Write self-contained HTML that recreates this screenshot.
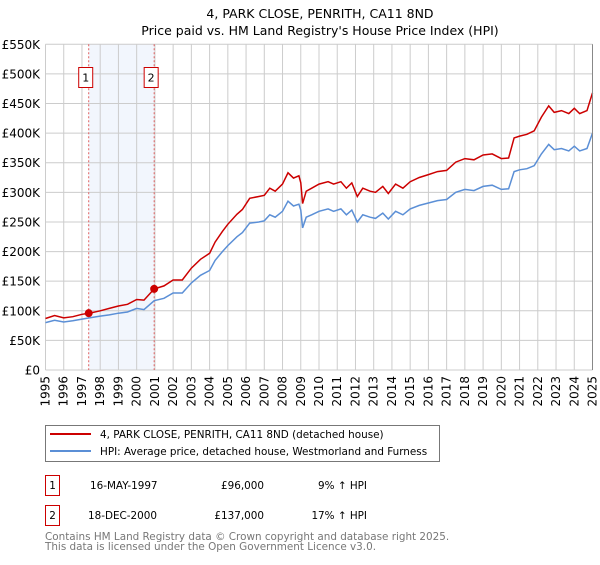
<!DOCTYPE html>
<html><head><meta charset="utf-8"><style>
body{margin:0;background:#fff;}
svg text{font-family:"DejaVu Sans","Liberation Sans",sans-serif;}
</style></head><body>
<svg id="chart" width="600" height="560" xmlns="http://www.w3.org/2000/svg">
<text x="320" y="18" font-size="12.5" text-anchor="middle" fill="#000">4, PARK CLOSE, PENRITH, CA11 8ND</text>
<text x="320" y="35" font-size="12.5" text-anchor="middle" fill="#000">Price paid vs. HM Land Registry's House Price Index (HPI)</text>
<g id="grid"></g>
<g id="marks"></g>
<g id="axes"></g>
<rect x="45.5" y="425.5" width="394" height="36" fill="#fff" stroke="#777"/>
<line x1="50" y1="434" x2="91" y2="434" stroke="#cc0000" stroke-width="2"/>
<text x="100" y="438" font-size="10.4">4, PARK CLOSE, PENRITH, CA11 8ND (detached house)</text>
<line x1="50" y1="451" x2="91" y2="451" stroke="#5b8fd6" stroke-width="2"/>
<text x="100" y="455" font-size="10.4">HPI: Average price, detached house, Westmorland and Furness</text>
<rect x="45.5" y="475.5" width="14" height="20" fill="#fff" stroke="#cc0000"/>
<text x="52.5" y="489" font-size="10.4" text-anchor="middle">1</text>
<text x="90" y="489" font-size="10.4">16-MAY-1997</text>
<text x="264" y="489" font-size="10.4" text-anchor="end">£96,000</text>
<text x="367" y="489" font-size="10.4" text-anchor="end">9% ↑ HPI</text>
<rect x="45.5" y="505.5" width="14" height="20" fill="#fff" stroke="#cc0000"/>
<text x="52.5" y="519" font-size="10.4" text-anchor="middle">2</text>
<text x="88" y="519" font-size="10.4">18-DEC-2000</text>
<text x="264" y="519" font-size="10.4" text-anchor="end">£137,000</text>
<text x="367" y="519" font-size="10.4" text-anchor="end">17% ↑ HPI</text>
<text x="45" y="540" font-size="10.4" fill="#777">Contains HM Land Registry data © Crown copyright and database right 2025.</text>
<text x="45" y="550" font-size="10.4" fill="#777">This data is licensed under the Open Government Licence v3.0.</text>
</svg>
<script>
const years=[1995,1995.5,1996,1996.5,1997,1997.4,1998,1998.5,1999,1999.5,2000,2000.4,2000.96,2001.5,2002,2002.5,2003,2003.5,2004,2004.3,2004.7,2005,2005.5,2005.8,2006.2,2006.7,2007,2007.3,2007.6,2008,2008.3,2008.6,2008.9,2009,2009.1,2009.3,2009.6,2010,2010.5,2010.8,2011.2,2011.5,2011.8,2012.1,2012.4,2012.8,2013.1,2013.5,2013.8,2014.2,2014.6,2015,2015.5,2016,2016.5,2017,2017.5,2018,2018.5,2019,2019.5,2020,2020.4,2020.7,2021,2021.4,2021.8,2022.2,2022.6,2022.9,2023.3,2023.7,2024,2024.3,2024.7,2025];
const hpiValues=[80,84,81,83,86,88,91,93,96,98,104,102,117,121,130,130,147,160,168,185,200,210,225,232,248,250,252,262,258,268,285,277,280,270,240,258,262,268,272,268,272,262,270,250,262,258,256,265,255,268,262,272,278,282,286,288,300,305,303,310,312,305,306,335,338,340,345,365,381,372,374,370,378,370,374,400];
const propertyValues=[87,92,88,90,94,96,100,104,108,111,119,118,137,142,152,152,172,187,197,216,234,246,263,271,290,293,295,307,302,314,333,324,328,316,281,302,307,314,318,314,318,307,316,293,307,302,300,310,298,314,307,318,325,330,335,337,351,357,355,363,365,357,358,392,395,398,404,427,446,435,438,433,442,433,438,468];
const yTicks=[0,50,100,150,200,250,300,350,400,450,500,550];
const yTickLabels=["£0","£50K","£100K","£150K","£200K","£250K","£300K","£350K","£400K","£450K","£500K","£550K"];
const xTicks=[1995,1996,1997,1998,1999,2000,2001,2002,2003,2004,2005,2006,2007,2008,2009,2010,2011,2012,2013,2014,2015,2016,2017,2018,2019,2020,2021,2022,2023,2024,2025];
const saleYears=[1997.37,2000.96];
const salePrices=[96,137];
const saleLabels=["1","2"];

const X0=45.5,X1=592.5,Y0=370,Y1=44.3;
const xs=y=>X0+(y-1995)/30*(X1-X0);
const ys=v=>Y0-v/550*(Y0-Y1);
const NS="http://www.w3.org/2000/svg";
function mk(tag,attrs,parent){const e=document.createElementNS(NS,tag);for(const k in attrs)e.setAttribute(k,attrs[k]);parent.appendChild(e);return e;}
const grid=document.getElementById('grid'),marks=document.getElementById('marks'),axes=document.getElementById('axes');

const shade=mk('rect',{x:xs(saleYears[0]),y:Y1,width:xs(saleYears[1])-xs(saleYears[0]),height:Y0-Y1,fill:'#f2f6fd'},grid);


yTicks.forEach((t,i)=>{
  const l=mk('line',{x1:X0,x2:X1,y1:ys(t),y2:ys(t),stroke:'#ccc','stroke-width':1},grid);
  
  
  const tx=mk('text',{x:40,y:ys(t)+4.5,'font-size':12,'text-anchor':'end',fill:'#000'},axes);
  tx.textContent=yTickLabels[i];
  
  
});
xTicks.forEach(t=>{
  const l=mk('line',{x1:xs(t),x2:xs(t),y1:Y1,y2:Y0,stroke:'#ccc','stroke-width':1},grid);
  
  
  const tx=mk('text',{x:0,y:0,'font-size':12,'text-anchor':'end',transform:`translate(${xs(t)+4},${Y0+6}) rotate(-90)`},axes);
  tx.textContent=t;
  
  
});
saleYears.forEach((s,i)=>{
  const l=mk('line',{x1:xs(s),x2:xs(s),y1:Y1,y2:Y0,stroke:'#e06060','stroke-width':1,'stroke-dasharray':'2,2'},grid);
  
  
  const r=mk('rect',{x:xs(s)-10,y:67.5,width:14,height:20,fill:'#fff',stroke:'#cc0000'},axes);
  
  
  const tx=mk('text',{x:xs(s)-3,y:81.5,'font-size':11,'text-anchor':'middle'},axes);
  tx.textContent=saleLabels[i];
  
  
});
function path(vals){return vals.map((v,i)=>(i?'L':'M')+xs(years[i]).toFixed(1)+','+ys(v).toFixed(1)).join('');}
const hp=mk('path',{d:path(hpiValues),fill:'none',stroke:'#5b8fd6','stroke-width':1.5},marks);


const pp=mk('path',{d:path(propertyValues),fill:'none',stroke:'#cc0000','stroke-width':1.5},marks);


saleYears.forEach((s,i)=>{
  const c=mk('circle',{cx:xs(s),cy:ys(salePrices[i]),r:4,fill:'#cc0000'},marks);
  
  
});
const ax=mk('line',{x1:X1,x2:X1,y1:Y1,y2:Y0,stroke:'#888','stroke-width':1},axes);


</script>
</body></html>
